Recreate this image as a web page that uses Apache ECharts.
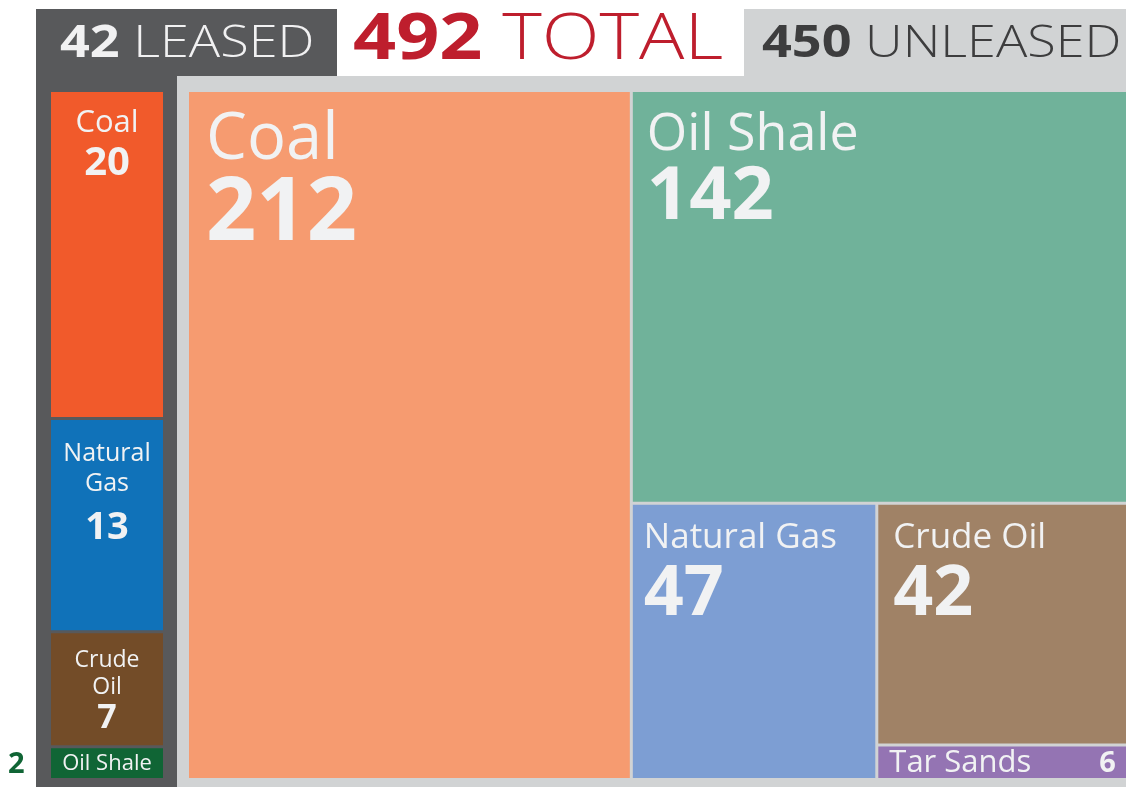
<!DOCTYPE html>
<html><head><meta charset="utf-8">
<script src="https://cdn.jsdelivr.net/npm/echarts@6/dist/echarts.min.js"></script>
<style>html,body{margin:0;padding:0;background:#fff}#c{width:1126px;height:787px}</style>
</head><body><div id="c"></div>
<script>
// ---- data ----
const leasedNames = ['Coal', 'Natural Gas', 'Crude Oil', 'Oil Shale'];
const leasedValues = [20, 13, 7, 2];
const unleasedNames = ['Coal', 'Oil Shale', 'Natural Gas', 'Crude Oil', 'Tar Sands'];
const unleasedValues = [212, 142, 47, 42, 6];
const headerValues = [42, 492, 450];
const headerLabels = ['LEASED', 'TOTAL', 'UNLEASED'];

// ---- styles ----
const FONT = 'Open Sans';
const TXT = '#f1f2f3';
const LEASED_BG = '#58595b';
const UNLEASED_BG = '#d1d3d4';
const leasedColors = ['#f15a2b', '#1072b9', '#734c28', '#106535'];
const unleasedColors = ['#f69b70', '#70b29a', '#7d9ed3', '#a08266', '#9474b3'];
const leasedLabel = [
  {lines: n => [n], n: 31, v: 40, lh: [34, 48], dy: 14},
  {lines: n => ['Natural', 'Gas'], n: 25, v: 38, lh: [30, 58], dy: 19},
  {lines: n => ['Crude', 'Oil'], n: 23, v: 34, lh: [27, 33], dy: 14},
  {lines: n => [n], n: 22, v: 22, lh: [26, 26], dy: 3, only: true}
];
const unleasedLabel = [
  {n: 65, v: 88, lh: [66, 84], dx: 17, dy: 15},
  {n: 52, v: 74, lh: [54, 72], dx: 14, dy: 16},
  {n: 35, v: 70, lh: [38, 76], dx: 11, dy: 14},
  {n: 35, v: 70, lh: [38, 76], dx: 15, dy: 14},
  {n: 31, v: 29, lh: [26, 26], dx: 11, dy: 4}
];

const leasedData = leasedNames.map((n, i) => {
  const s = leasedLabel[i];
  const txt = s.lines(n).map(l => `{n|${l}}`).join('\n') + (s.only ? '' : `\n{v|${leasedValues[i]}}`);
  return {
    name: n, value: leasedValues[i],
    itemStyle: {color: leasedColors[i]},
    label: {
      position: s.only ? 'inside' : 'insideTop',
      padding: 0,
      offset: [0, s.dy],
      align: 'center',
      formatter: () => txt,
      rich: {
        n: {fontFamily: FONT, fontSize: s.n, color: TXT, lineHeight: s.lh[0], align: 'center'},
        v: {fontFamily: FONT, fontSize: s.v, color: TXT, fontWeight: 'bold', lineHeight: s.lh[1], align: 'center'}
      }
    }
  };
});

const unleasedData = unleasedNames.map((n, i) => {
  const s = unleasedLabel[i];
  const tar = i === 4;
  return {
    name: n, value: unleasedValues[i],
    itemStyle: {color: unleasedColors[i]},
    label: {
      position: tar ? 'insideLeft' : 'insideTopLeft',
      padding: 0,
      offset: [s.dx, s.dy],
      formatter: () => tar ? `{n|${n}}{v|${unleasedValues[i]}}` : `{n|${n}}\n{v|${unleasedValues[i]}}`,
      rich: {
        n: {fontFamily: FONT, fontSize: s.n, color: TXT, lineHeight: s.lh[0], width: tar ? 210 : undefined},
        v: {fontFamily: FONT, fontSize: s.v, color: TXT, fontWeight: 'bold', lineHeight: s.lh[1]}
      }
    }
  };
});

const common = {
  type: 'treemap', roam: false, nodeClick: false,
  breadcrumb: {show: false},
  squareRatio: 1,
  emphasis: {disabled: true},
  label: {show: true, overflow: 'none', padding: 0},
  upperLabel: {show: false},
  silent: true,
  animation: false
};

const hdr = (v, l, size, color) => ({
  text: `{b|${v} }{l|${l}}`, verticalAlign: 'middle',
  rich: {b: {fontFamily: FONT, fontSize: size, fontWeight: 'bold', fill: color},
         l: {fontFamily: FONT, fontSize: size, fontWeight: 300, fill: color}}
});

const chart = echarts.init(document.getElementById('c'), null, {renderer: 'canvas'});
chart.setOption({
  animation: false,
  graphic: [
    {type: 'rect', shape: {x: 36, y: 9, width: 301, height: 67}, style: {fill: LEASED_BG}},
    {type: 'rect', shape: {x: 36, y: 75, width: 141, height: 712}, style: {fill: LEASED_BG}},
    {type: 'rect', shape: {x: 744, y: 9, width: 382, height: 67}, style: {fill: UNLEASED_BG}},
    {type: 'rect', shape: {x: 177, y: 76, width: 949, height: 711}, style: {fill: UNLEASED_BG}},
    {type: 'text', x: 60, y: 44, scaleX: 1.16, style: hdr(headerValues[0], headerLabels[0], 45, '#f1f1f2')},
    {type: 'text', x: 353, y: 41, scaleX: 1.18, style: hdr(headerValues[1], headerLabels[1], 64, '#be1e2d')},
    {type: 'text', x: 762, y: 44, scaleX: 1.16, style: hdr(headerValues[2], headerLabels[2], 45, '#3d3d3e')},
    {type: 'text', x: 8, y: 765, style: {
      text: String(leasedValues[3]), verticalAlign: 'middle',
      fontFamily: FONT, fontSize: 29, fontWeight: 'bold', fill: '#106535'}}
  ],
  series: [
    Object.assign({}, common, {left: 51, top: 92, width: 112, height: 686, data: leasedData,
      itemStyle: {borderWidth: 0, gapWidth: 3, borderColor: LEASED_BG}}),
    Object.assign({}, common, {left: 189, top: 92, width: 937, height: 686, data: unleasedData,
      itemStyle: {borderWidth: 0, gapWidth: 3, borderColor: UNLEASED_BG}})
  ]
});
</script>
</body></html>
